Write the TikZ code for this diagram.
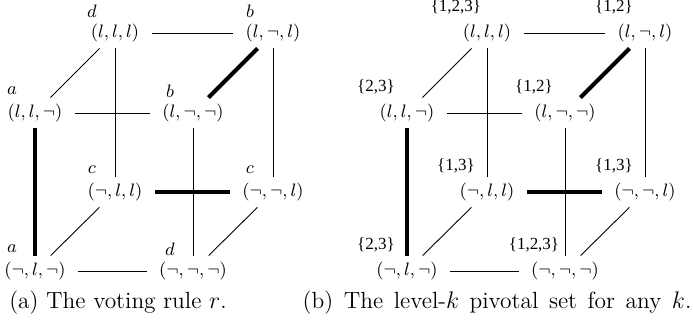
\documentclass[tikz,border=0pt]{standalone}
\usepackage{fontspec}
\usepackage{tikz}
\usetikzlibrary{positioning}
\newfontfamily\setfont{Liberation Serif}

\begin{document}
\begin{tikzpicture}[
  x=0.5pt, y=-0.5pt,
  vtx/.style={inner xsep=6pt, inner ysep=3pt, font=\fontsize{8.8}{10}\selectfont},
  ltr/.style={label={[xshift=-11.5pt, yshift=11pt, font=\fontsize{8.8}{10}\selectfont]center:$#1$}},
  pset/.style={label={[xshift=-15.5pt, yshift=13pt, font=\fontsize{8.5}{10}\setfont]center:#1}},
  cedge/.style={line width=0.45pt},
  cbold/.style={line width=2pt},
  captext/.style={font=\fontsize{11.7}{14}\selectfont}
]
  \useasboundingbox (0,0) rectangle (693,324);

  % (a) the voting rule
  \node[vtx, ltr=d] (a-lll) at (115,33)  {$(l,l,l)$};
  \node[vtx, ltr=b] (a-lnl) at (273,33)  {$(l,\neg,l)$};
  \node[vtx, ltr=a] (a-llN) at (35,113)  {$(l,l,\neg)$};
  \node[vtx, ltr=b] (a-lNN) at (193,113) {$(l,\neg,\neg)$};
  \node[vtx, ltr=c] (a-Nll) at (115,192) {$(\neg,l,l)$};
  \node[vtx, ltr=c] (a-NNl) at (273,192) {$(\neg,\neg,l)$};
  \node[vtx, ltr=a] (a-NlN) at (35,271)  {$(\neg,l,\neg)$};
  \node[vtx, ltr=d] (a-NNN) at (193,271) {$(\neg,\neg,\neg)$};

  % (b) the pivotal sets
  \node[vtx, pset={\{1,2,3\}}] (b-lll) at (487,33)  {$(l,l,l)$};
  \node[vtx, pset={\{1,2\}}]   (b-lnl) at (645,33)  {$(l,\neg,l)$};
  \node[vtx, pset={\{2,3\}}]   (b-llN) at (407,113) {$(l,l,\neg)$};
  \node[vtx, pset={\{1,2\}}]   (b-lNN) at (565,113) {$(l,\neg,\neg)$};
  \node[vtx, pset={\{1,3\}}]   (b-Nll) at (487,192) {$(\neg,l,l)$};
  \node[vtx, pset={\{1,3\}}]   (b-NNl) at (645,192) {$(\neg,\neg,l)$};
  \node[vtx, pset={\{2,3\}}]   (b-NlN) at (407,271) {$(\neg,l,\neg)$};
  \node[vtx, pset={\{1,2,3\}}] (b-NNN) at (565,271) {$(\neg,\neg,\neg)$};

  % cube edges, same in both
  \foreach \c in {a,b}{
    \foreach \p/\q in {lll/lnl, lll/llN, lll/Nll, lnl/NNl, llN/lNN,
                       lNN/NNN, Nll/NlN, NNl/NNN, NlN/NNN}
      \draw[cedge] (\c-\p) -- (\c-\q);
    \foreach \p/\q in {lnl/lNN, llN/NlN, Nll/NNl}
      \draw[cbold] (\c-\p) -- (\c-\q);
  }

  \node[captext] (capa) at (118,303) {(a) The voting rule $r$.};
  \node[captext] (capb) at (497,303) {\spaceskip=5.3pt (b) The level-$k$ pivotal set for any $k$.};
\end{tikzpicture}
\end{document}
